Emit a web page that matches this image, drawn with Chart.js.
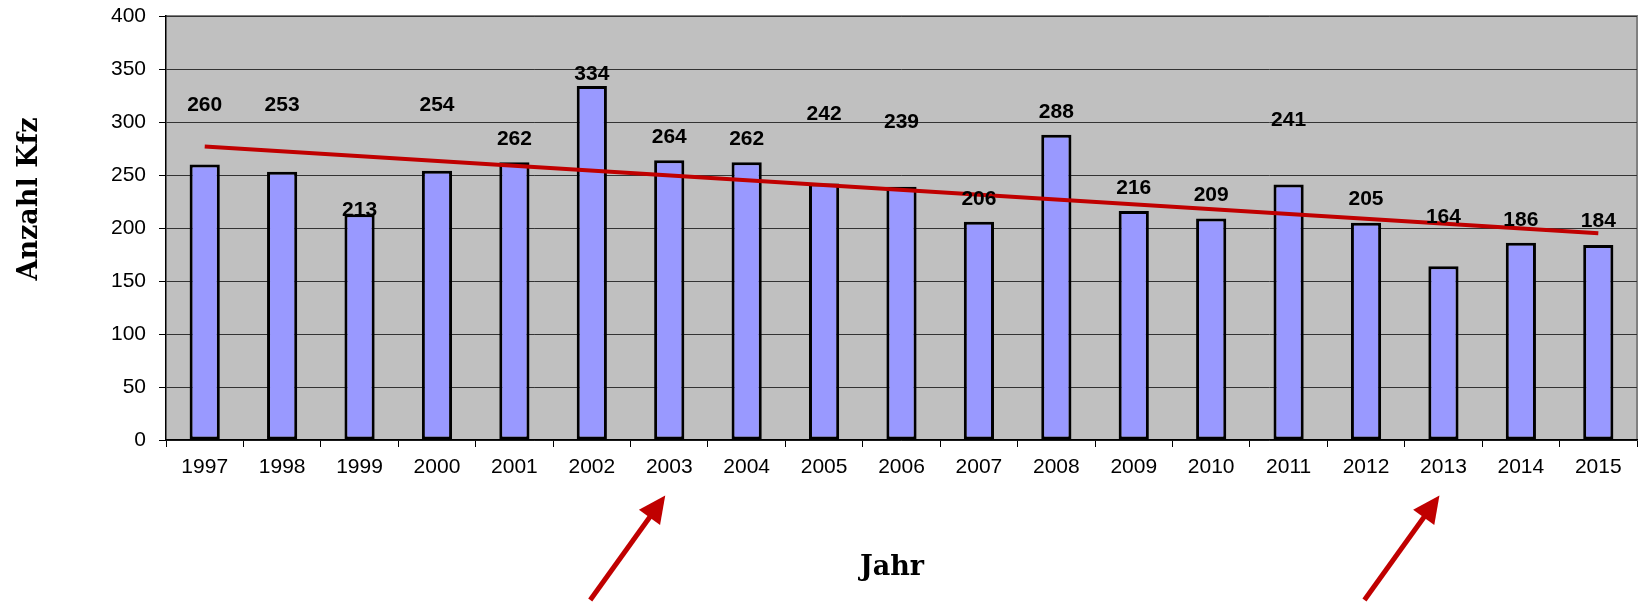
<!DOCTYPE html>
<html>
<head>
<meta charset="utf-8">
<script src="https://cdn.jsdelivr.net/npm/chart.js@4.4.1/dist/chart.umd.min.js"></script>
<style>
  html, body { margin: 0; padding: 0; background: #fff; }
  canvas { display: block; }
</style>
</head>
<body>
<canvas id="c" width="1640" height="604"></canvas>
<script>
// ---- data ----
const years = ['1997','1998','1999','2000','2001','2002','2003','2004','2005','2006','2007','2008','2009','2010','2011','2012','2013','2014','2015'];
const vehicles = [260, 253, 213, 254, 262, 334, 264, 262, 242, 239, 206, 288, 216, 209, 241, 205, 164, 186, 184];
// trend line end values (first and last year)
const trendEnds = [277, 195];
const yTicks = [0, 50, 100, 150, 200, 250, 300, 350, 400];
const yTitle = 'Anzahl Kfz';
const xTitle = 'Jahr';
const arrowYears = ['2003', '2013'];

// ---- layout (label placement in value units, as dragged in the original) ----
const labelLevel = [316, 316, 217, 316, 284, 345, 286, 284, 307.5, 300, 227, 309, 238, 231, 302, 227, 210, 207.5, 206];

const FONT = "'Liberation Sans', Arial, sans-serif";
const SERIF = "'DejaVu Serif', Georgia, serif";

const bgPlugin = {
  id: 'bg',
  beforeDraw(chart) {
    const {ctx, chartArea: a} = chart;
    ctx.save();
    ctx.fillStyle = '#C0C0C0';
    ctx.fillRect(a.left, a.top, a.right - a.left, a.bottom - a.top);
    ctx.strokeStyle = '#808080';
    ctx.lineWidth = 2;
    ctx.beginPath();
    ctx.moveTo(a.left, a.top);
    ctx.lineTo(a.right, a.top);
    ctx.lineTo(a.right, a.bottom);
    ctx.stroke();
    ctx.restore();
  }
};

const labelPlugin = {
  id: 'labels',
  afterDatasetsDraw(chart) {
    const {ctx} = chart;
    const xs = chart.scales.x, ys = chart.scales.y;
    ctx.save();
    ctx.font = 'bold 21px ' + FONT;
    ctx.fillStyle = '#000';
    ctx.textAlign = 'center';
    ctx.textBaseline = 'middle';
    vehicles.forEach((v, i) => {
      ctx.fillText(String(v), xs.getPixelForValue(i), ys.getPixelForValue(labelLevel[i]));
    });
    ctx.restore();
  }
};

function drawArrow(ctx, x1, y1, x2, y2) {
  const dx = x2 - x1, dy = y2 - y1;
  const len = Math.hypot(dx, dy);
  const ux = dx / len, uy = dy / len;
  const headLen = 27, headHalf = 13;
  const bx = x2 - ux * headLen, by = y2 - uy * headLen;
  ctx.strokeStyle = '#C00000';
  ctx.fillStyle = '#C00000';
  ctx.lineWidth = 5;
  ctx.beginPath();
  ctx.moveTo(x1, y1);
  ctx.lineTo(bx + ux * 4, by + uy * 4);
  ctx.stroke();
  ctx.beginPath();
  ctx.moveTo(x2, y2);
  ctx.lineTo(bx - uy * headHalf, by + ux * headHalf);
  ctx.lineTo(bx + uy * headHalf, by - ux * headHalf);
  ctx.closePath();
  ctx.fill();
}

const annoPlugin = {
  id: 'anno',
  afterDraw(chart) {
    const {ctx} = chart;
    const xs = chart.scales.x;
    ctx.save();
    ctx.fillStyle = '#000';
    ctx.font = 'bold 27px ' + SERIF;
    ctx.textAlign = 'center';
    ctx.textBaseline = 'alphabetic';
    ctx.fillText(xTitle, 892, 575);
    ctx.save();
    ctx.translate(37, 199);
    ctx.rotate(-Math.PI / 2);
    ctx.fillText(yTitle, 0, 0);
    ctx.restore();
    arrowYears.forEach(yr => {
      const tx = xs.getPixelForValue(years.indexOf(yr)) - 4;
      const ty = 495.5;
      drawArrow(ctx, tx - 75, 600, tx, ty);
    });
    ctx.restore();
  }
};

new Chart(document.getElementById('c'), {
  data: {
    labels: years,
    datasets: [
      {
        type: 'line',
        data: [{x: years[0], y: trendEnds[0]}, {x: years[years.length - 1], y: trendEnds[1]}],
        borderColor: '#C00000',
        borderWidth: 4,
        pointRadius: 0,
        fill: false,
        order: 0
      },
      {
        type: 'bar',
        data: vehicles,
        backgroundColor: '#9999FF',
        borderColor: '#000000',
        borderWidth: 3,
        borderSkipped: false,
        categoryPercentage: 1,
        barPercentage: 0.39,
        order: 1
      }
    ]
  },
  options: {
    responsive: false,
    animation: false,
    events: [],
    layout: { padding: { top: 16, right: 3, left: 0, bottom: 0 } },
    plugins: { legend: { display: false }, tooltip: { enabled: false } },
    scales: {
      x: {
        type: 'category',
        offset: true,
        afterFit(s) { s.height = 164; s.paddingLeft = 0; s.paddingRight = 0; },
        grid: { display: true, drawOnChartArea: false, offset: true, tickLength: 7, color: '#000', lineWidth: 1 },
        border: { display: true, color: '#000', width: 1.5 },
        ticks: { color: '#000', font: { family: FONT, size: 21 }, padding: 8, maxRotation: 0, autoSkip: false }
      },
      y: {
        min: 0,
        max: 400,
        afterFit(s) { s.width = 166; s.paddingTop = 0; s.paddingBottom = 0; },
        afterBuildTicks(s) { s.ticks = yTicks.map(v => ({ value: v })); },
        grid: { color: '#333333', lineWidth: 1, tickLength: 7, tickColor: '#000' },
        border: { display: true, color: '#000', width: 1.5 },
        ticks: { color: '#000', font: { family: FONT, size: 21 }, padding: 13 }
      }
    }
  },
  plugins: [bgPlugin, labelPlugin, annoPlugin]
});
</script>
</body>
</html>
